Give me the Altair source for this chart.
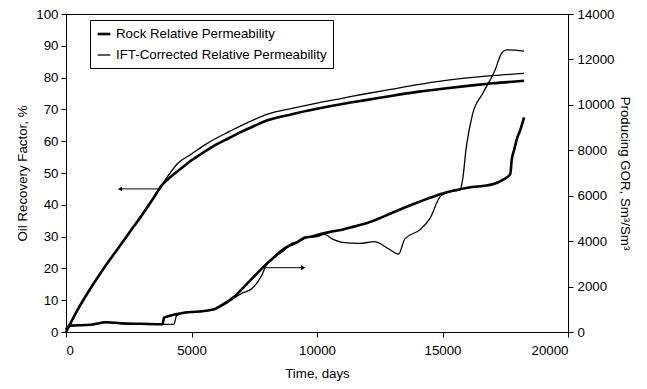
import altair as alt
import pandas as pd

# ---- Oil recovery factor (%), left axis ----
rock_rf_t = [0, 500, 1000, 1500, 2000, 2500, 3000, 3500, 3800, 4200, 4600, 5000, 5500, 6000, 6500,
             7000, 7500, 8000, 9000, 10000, 11000, 12000, 13000, 14000, 15000, 16000, 17000, 18250]
rock_rf = [0, 7.5, 14, 20, 25.5, 31, 36.5, 42.3, 46, 49, 51.5, 54, 56.6, 59, 61, 63, 64.8, 66.5,
           68.5, 70.2, 71.7, 73, 74.3, 75.5, 76.5, 77.4, 78.2, 79]
ift_rf_t = [0, 500, 1000, 1500, 2000, 2500, 3000, 3500, 3800, 4100, 4450, 5000, 5500, 6000, 6500,
            7000, 7500, 8000, 9000, 10000, 11000, 12000, 13000, 14000, 15000, 16000, 17000, 18250]
ift_rf = [0, 7.5, 14, 20, 25.5, 31, 36.5, 42.3, 46, 49.5, 53, 56, 58.7, 61, 63, 65, 66.8, 68.4,
          70.3, 72, 73.5, 75, 76.4, 77.8, 79, 79.9, 80.6, 81.3]

# ---- Producing GOR (Sm3/Sm3), right axis ----
rock_gor_t = [0, 150, 1000, 1600, 2200, 3000, 3850, 3900, 4100, 4700, 5300, 5900, 6300, 6700, 7100,
              7500, 7900, 8300, 8600, 8900, 9200, 9500, 9800, 10100, 10500, 11000, 11500, 12000,
              13000, 14000, 15000, 16000, 17000, 17400, 17700, 17760, 17850, 17950, 18100, 18250]
rock_gor = [100, 280, 320, 430, 380, 360, 340, 620, 700, 850, 900, 1000, 1250, 1550, 2000, 2450,
            2900, 3300, 3600, 3800, 3950, 4150, 4200, 4300, 4400, 4500, 4650, 4800, 5250, 5700,
            6100, 6350, 6500, 6700, 6950, 7600, 8000, 8450, 8900, 9450]
ift_gor_t = [0, 150, 1000, 1600, 2200, 3000, 3900, 4300, 4400, 4700, 5300, 5900, 6300, 6700, 7000,
             7400, 7800, 8000, 8300, 8700, 9000, 9300, 9600, 10000, 10300, 10600, 11000, 11700,
             12300, 12800, 13250, 13500, 14100, 14500, 14900, 15300, 15700, 15800, 15950, 16200,
             16600, 17100, 17350, 17550, 18250]
ift_gor = [100, 280, 320, 430, 380, 360, 340, 340, 700, 850, 900, 1000, 1200, 1500, 1700, 1900,
           2500, 3000, 3300, 3600, 3900, 4000, 4150, 4200, 4300, 4100, 3950, 3900, 3980, 3700,
           3430, 4100, 4500, 5000, 5950, 6180, 6250, 6700, 8150, 9600, 10500, 11550, 12270,
           12420, 12370]

series_names = ["Rock Relative Permeability", "IFT-Corrected Relative Permeability"]

# annotation arrows: (tail t, head t, level)
rf_arrow = {"t0": [3800], "t1": [2150], "value": [45]}
gor_arrow = {"t0": [7900], "t1": [9450], "value": [2830]}

rf_df = pd.concat([
    pd.DataFrame({"t": rock_rf_t, "value": rock_rf, "series": series_names[0]}),
    pd.DataFrame({"t": ift_rf_t, "value": ift_rf, "series": series_names[1]}),
])
gor_df = pd.concat([
    pd.DataFrame({"t": rock_gor_t, "value": rock_gor, "series": series_names[0]}),
    pd.DataFrame({"t": ift_gor_t, "value": ift_gor, "series": series_names[1]}),
])
rf_arr_df = pd.DataFrame(rf_arrow)
gor_arr_df = pd.DataFrame(gor_arrow)

FONT = "Liberation Sans"
FS = 13.3

x_scale = alt.Scale(domain=[0, 20000], nice=False)
x_axis = alt.Axis(title="Time, days", values=[0, 5000, 10000, 15000, 20000], format="d",
                  labelPadding=6, titlePadding=10)

left_axis = alt.Axis(title="Oil Recovery Factor, %", values=list(range(0, 101, 10)), format="d",
                     orient="left", titlePadding=6, labelPadding=3)
right_axis = alt.Axis(title="Producing GOR, Sm³/Sm³", values=list(range(0, 14001, 2000)), format="d",
                      orient="right", titlePadding=4, labelPadding=4)

y_left = alt.Y("value:Q", scale=alt.Scale(domain=[0, 100], nice=False), axis=left_axis)
y_right = alt.Y("value:Q", scale=alt.Scale(domain=[0, 14000], nice=False), axis=right_axis)

legend_cfg = dict(title=None, orient="none", legendX=24, legendY=6,
                  strokeColor="black", fillColor="white", padding=6,
                  symbolType="stroke", symbolSize=160, labelLimit=0,
                  labelFont=FONT, labelFontSize=FS, labelColor="black",
                  rowPadding=7, symbolStrokeColor="black")
color_enc = alt.Color("series:N", scale=alt.Scale(domain=series_names, range=["black", "black"]),
                      legend=alt.Legend(**legend_cfg))
sw_enc = alt.StrokeWidth("series:N", scale=alt.Scale(domain=series_names, range=[2.6, 1.3]),
                         legend=alt.Legend(**legend_cfg))

rf_lines = alt.Chart(rf_df).mark_line(interpolate="monotone").encode(
    x=alt.X("t:Q", scale=x_scale, axis=x_axis), y=y_left, color=color_enc, strokeWidth=sw_enc,
    detail="series:N")
rf_arrow_line = alt.Chart(rf_arr_df).mark_rule(color="black", strokeWidth=1).encode(
    x=alt.X("t0:Q", scale=x_scale, axis=x_axis), x2="t1:Q", y=y_left)
rf_arrow_head = alt.Chart(rf_arr_df).mark_point(shape="triangle-left", filled=True, color="black",
                                               size=24, opacity=1).encode(
    x=alt.X("t1:Q", scale=x_scale, axis=x_axis), y=y_left)

gor_lines = alt.Chart(gor_df).mark_line(interpolate="monotone").encode(
    x=alt.X("t:Q", scale=x_scale, axis=x_axis), y=y_right, color=color_enc, strokeWidth=sw_enc,
    detail="series:N")
gor_arrow_line = alt.Chart(gor_arr_df).mark_rule(color="black", strokeWidth=1).encode(
    x=alt.X("t0:Q", scale=x_scale, axis=x_axis), x2="t1:Q", y=y_right)
gor_arrow_head = alt.Chart(gor_arr_df).mark_point(shape="triangle-right", filled=True, color="black",
                                                 size=24, opacity=1).encode(
    x=alt.X("t1:Q", scale=x_scale, axis=x_axis), y=y_right)

left = alt.layer(rf_lines, rf_arrow_line, rf_arrow_head)
right = alt.layer(gor_lines, gor_arrow_line, gor_arrow_head)

chart = alt.layer(left, right).resolve_scale(y="independent").properties(
    width=502, height=318,
    autosize=alt.AutoSizeParams(type="none"),
    padding={"left": 58, "top": 6, "right": 70, "bottom": 50},
).configure(font=FONT).configure_view(stroke="black", strokeWidth=1).configure_axis(
    labelFont=FONT, titleFont=FONT, labelFontSize=FS, titleFontSize=FS,
    labelColor="black", titleColor="black", titleFontWeight="normal",
    domainColor="black", tickColor="black", tickSize=5, grid=False,
)

chart.save("out.html", embed_options={"renderer": "svg", "actions": False})
